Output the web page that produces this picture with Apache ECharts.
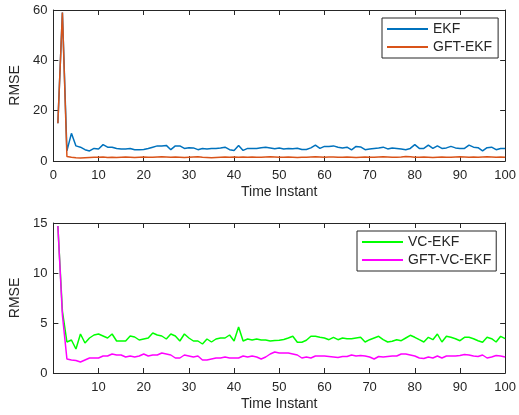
<!DOCTYPE html>
<html>
<head>
<meta charset="utf-8">
<script src="https://cdn.jsdelivr.net/npm/echarts@6/dist/echarts.min.js"></script>
<style>html,body{margin:0;padding:0;background:#fff}#c{width:519px;height:415px}</style>
</head>
<body>
<div id="c"></div>
<script>
const ekf = [15,59,4,11,6,5.5,4.5,4,5,4.8,
6.5,5.5,5.5,5,4.8,4.8,5,4.5,4.5,4.6,
5,5.5,6,6,6.2,4.5,6,6,5,5.3,
5.2,4.5,5,4.8,5,5,5.2,5.5,4.5,4.2,
6.2,4.2,5,5,5,5.3,5.5,5.2,4.9,5.2,
4.8,5,4.9,5.1,4.6,4.6,5.2,6.3,5,5.8,
5.8,6,5.5,5.2,5.5,4.4,5.8,5.6,4.5,4.8,
5,5.2,5.5,4.8,5.2,5,4.8,4.5,5,6.5,
5,5,6.3,5,6,5,5.2,5.8,5.2,5,
5,6.3,5.5,5.3,4,5.3,5.5,4.5,5,5];
const gftEkf = [15,59,1.8,1.5,1.3,1.2,1.3,1.4,1.5,1.5,
1.6,1.4,1.5,1.4,1.5,1.6,1.5,1.4,1.5,1.6,
1.5,1.5,1.6,1.7,1.6,1.5,1.6,1.5,1.4,1.5,
1.6,1.7,1.5,1.4,1.3,1.4,1.5,1.6,1.5,1.6,
1.5,1.6,1.5,1.6,1.5,1.5,1.6,1.7,1.6,1.5,
1.5,1.6,1.5,1.4,1.5,1.5,1.6,1.7,1.6,1.5,
1.6,1.6,1.5,1.5,1.6,1.5,1.4,1.5,1.6,1.5,
1.5,1.6,1.7,1.6,1.5,1.5,1.6,1.8,1.7,1.5,
1.5,1.6,1.5,1.4,1.5,1.6,1.5,1.5,1.6,1.7,
1.6,1.5,1.6,1.5,1.6,1.7,1.6,1.5,1.6,1.5];
const vcEkf = [14.7,6.2,3.1,3.3,2.4,3.9,3.0,3.5,3.8,3.9,
3.7,3.5,3.9,3.2,3.2,3.2,3.7,3.6,3.3,3.4,
3.5,4.0,3.8,3.7,3.4,3.9,3.7,3.2,3.9,3.5,
3.2,3.2,2.9,3.4,3.1,3.4,3.5,3.5,3.8,3.2,
4.6,3.2,3.4,3.3,3.4,3.3,3.3,3.2,3.25,3.27,
3.35,3.5,3.67,3.07,3.07,3.27,3.67,3.67,3.57,3.5,
3.33,3.57,3.33,3.5,3.43,3.43,3.5,3.57,3.1,3.33,
3.5,3.67,3.33,3.1,3.17,3.33,3.23,3.5,3.77,3.57,
3.33,3.1,3.57,3.33,3.9,3.1,3.67,3.57,3.43,3.23,
3.57,3.57,3.43,3.23,3.07,3.57,3.43,3.1,3.67,3.43];
const gftVcEkf = [14.7,5.8,1.4,1.3,1.25,1.1,1.3,1.5,1.5,1.5,
1.7,1.7,1.9,1.8,1.8,1.6,1.7,1.6,1.7,1.9,
1.7,1.8,1.8,2.0,1.9,1.8,1.5,1.5,1.8,1.7,
1.6,1.7,1.3,1.3,1.4,1.5,1.5,1.6,1.5,1.5,
1.5,1.7,1.6,1.7,1.6,1.4,1.6,1.9,2.1,2.0,
2.0,2.0,1.9,1.8,1.5,1.6,1.5,1.7,1.7,1.7,
1.65,1.6,1.55,1.65,1.65,1.8,1.7,1.75,1.7,1.6,
1.4,1.65,1.6,1.65,1.7,1.7,1.9,1.9,1.8,1.7,
1.5,1.45,1.6,1.5,1.7,1.5,1.7,1.7,1.7,1.75,
1.85,1.8,1.7,1.65,1.8,1.5,1.6,1.75,1.7,1.6];
const topYTicks = [0,20,40,60];
const bottomYTicks = [0,5,10,15];
const xTicks = [0,10,20,30,40,50,60,70,80,90,100];

const pairs = arr => arr.map((v,i)=>[i+1,v]);
const FONT = 'Liberation Sans, Arial, sans-serif';
const AX = '#262626';
const lblStyle = {color:AX, fontFamily:FONT, fontSize:13};

function xAx(grid, pos, showLabels, hideZero){
  return {
    type:'value', gridIndex:grid, position:pos, min:0, max:100, interval:10,
    axisLine:{show:true, onZero:false, lineStyle:{color:AX,width:1}},
    axisTick:{show:true, inside:true, length:5, lineStyle:{color:AX}},
    axisLabel:{show:showLabels, margin:8, ...lblStyle,
      formatter: v => (hideZero && v===0) ? '' : String(v)},
    splitLine:{show:false},
    name: showLabels ? 'Time Instant' : '',
    nameLocation:'middle', nameGap:24,
    nameTextStyle:{color:AX, fontFamily:FONT, fontSize:14}
  };
}
function yAx(grid, pos, showLabels, max, interval){
  return {
    type:'value', gridIndex:grid, position:pos, min:0, max:max, interval:interval,
    axisLine:{show:true, onZero:false, lineStyle:{color:AX,width:1}},
    axisTick:{show:true, inside:true, length:5, lineStyle:{color:AX}},
    axisLabel:{show:showLabels, margin:6, ...lblStyle},
    splitLine:{show:false},
    name: showLabels ? 'RMSE' : '',
    nameLocation:'middle', nameGap:23,
    nameTextStyle:{color:AX, fontFamily:FONT, fontSize:14}
  };
}
function line(name, data, color, xi, yi, z){
  return {name, type:'line', data:pairs(data), xAxisIndex:xi, yAxisIndex:yi,
    showSymbol:false, symbol:'none', lineStyle:{color, width:1.5}, itemStyle:{color},
    animation:false, z:z};
}
const legendBase = {
  orient:'vertical', backgroundColor:'#fff', borderColor:AX, borderWidth:1,
  borderRadius:0, itemWidth:41, itemHeight:2, icon:'rect', itemGap:0,
  textStyle:{color:AX, fontFamily:FONT, fontSize:14, lineHeight:18}
};
const chart = echarts.init(document.getElementById('c'), null, {renderer:'canvas'});
chart.setOption({
  animation:false,
  backgroundColor:'#fff',
  grid:[
    {left:45, top:10, width:464, height:151},
    {left:45, top:223, width:464, height:150}
  ],
  xAxis:[xAx(0,'bottom',true,false), xAx(0,'top',false,false),
         xAx(1,'bottom',true,true), xAx(1,'top',false,false)],
  yAxis:[yAx(0,'left',true,60,20), yAx(0,'right',false,60,20),
         yAx(1,'left',true,15,5), yAx(1,'right',false,15,5)],
  legend:[
    {...legendBase, left:382, top:18, padding:[2,6,2,5], data:['EKF','GFT-EKF']},
    {...legendBase, left:357, top:231, padding:[2,5,2,5], data:['VC-EKF','GFT-VC-EKF']}
  ],
  series:[
    line('EKF', ekf, '#0072BD', 0, 0, 5),
    line('GFT-EKF', gftEkf, '#D95319', 0, 0, 6),
    line('VC-EKF', vcEkf, '#00FF00', 2, 2, 5),
    line('GFT-VC-EKF', gftVcEkf, '#FF00FF', 2, 2, 6)
  ]
});
</script>
</body>
</html>
